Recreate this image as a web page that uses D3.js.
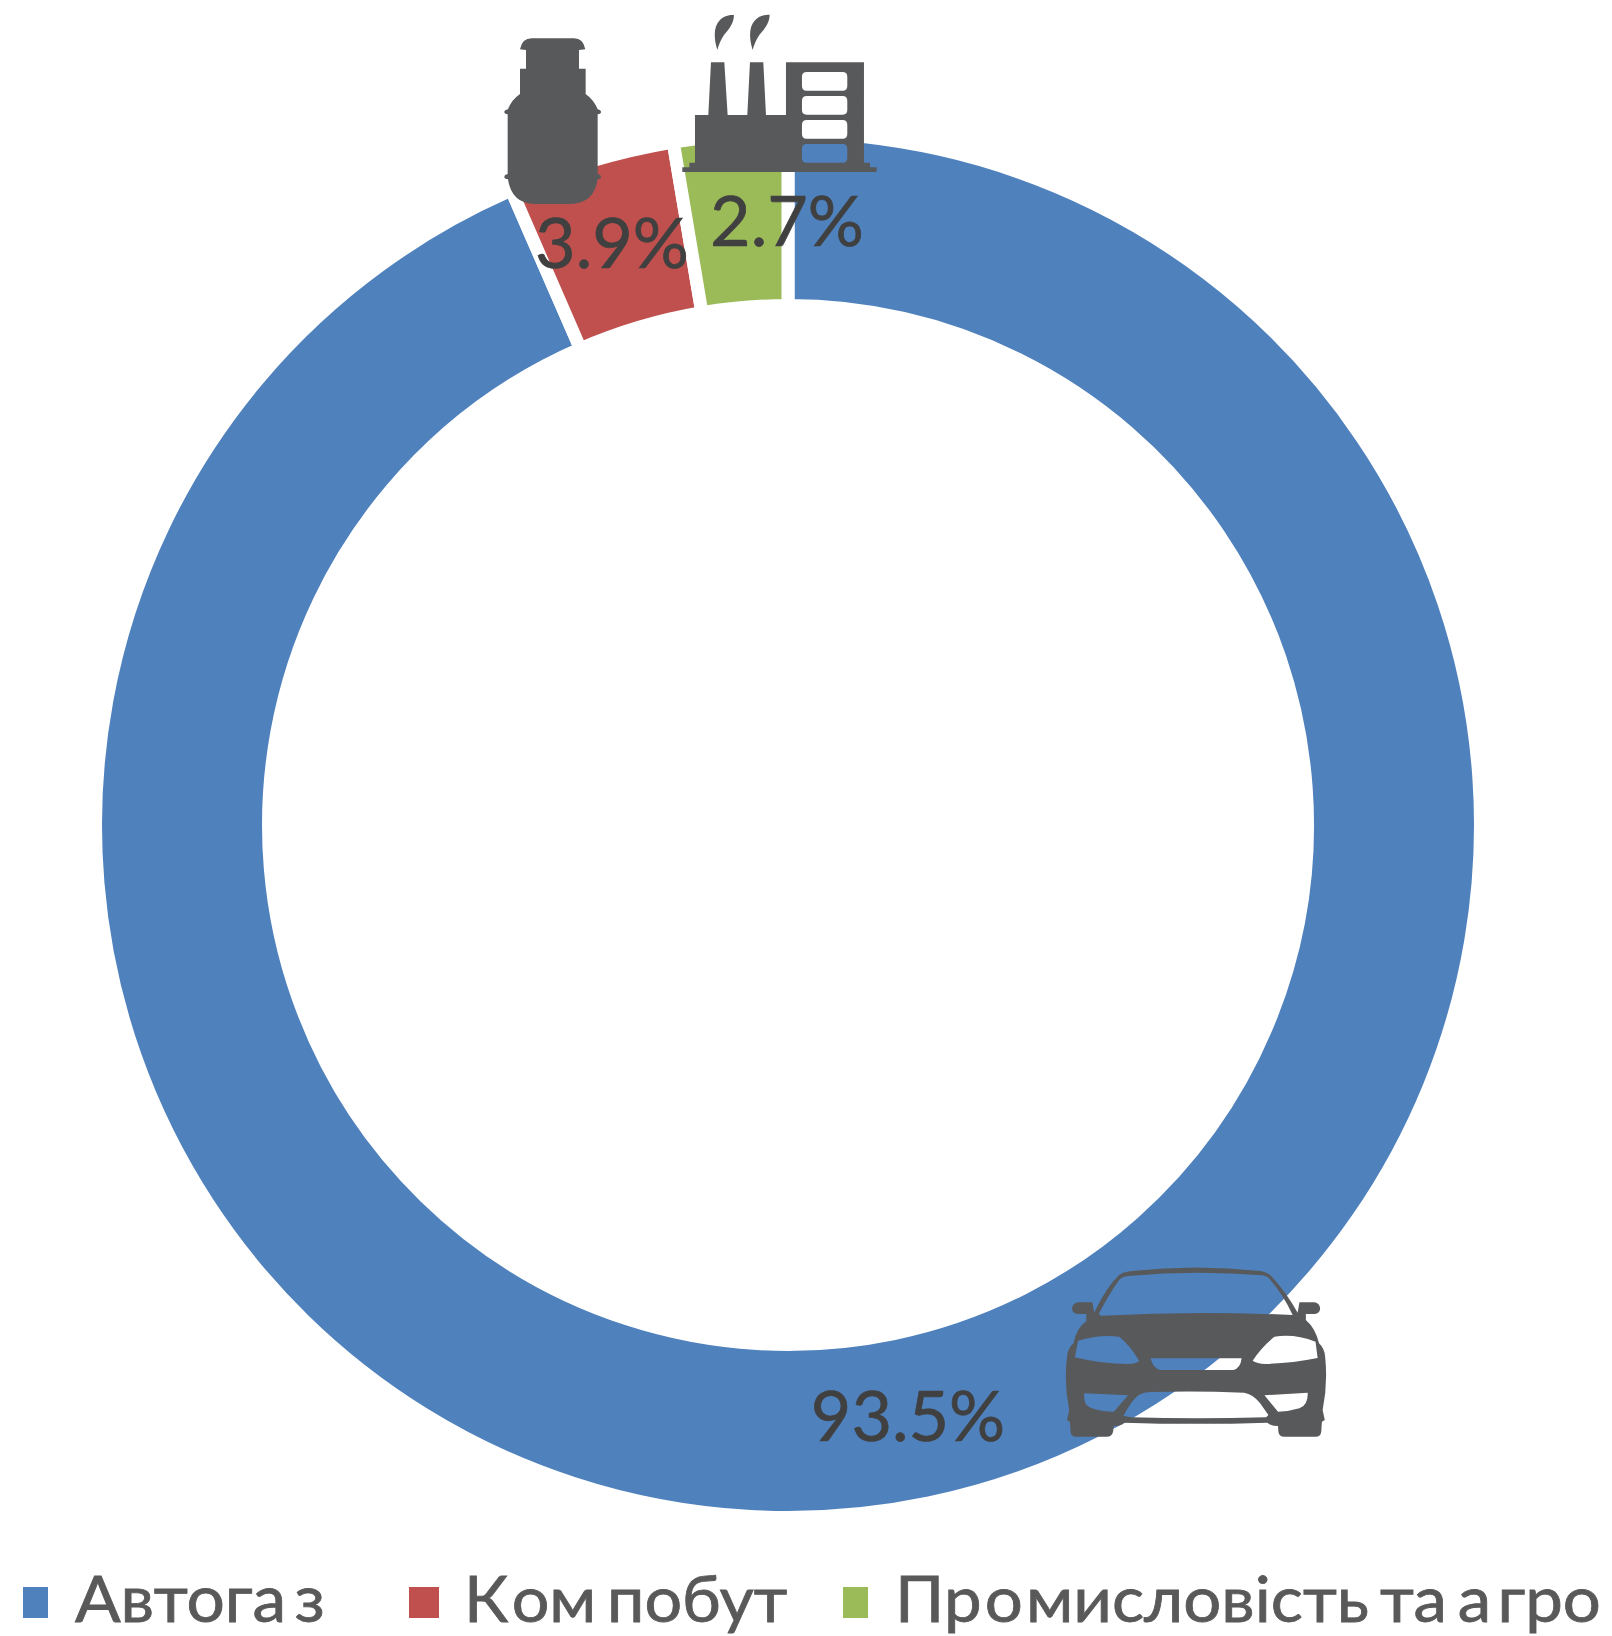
<!DOCTYPE html>
<html>
<head>
<meta charset="utf-8">
<script src="https://cdn.jsdelivr.net/npm/d3@7"></script>
<style>
  html, body { margin: 0; padding: 0; background: #fff; }
  svg { display: block; }
  text { font-family: Lato, "Open Sans", sans-serif; }
</style>
</head>
<body>
<div id="chart"></div>
<script>
// data
var categories = ["Автогаз", "Ком побут", "Промисловість та агро"];
var shares = [93.46, 3.89, 2.65];
var shareLabels = ["93.5%", "3.9%", "2.7%"];
var colors = ["#4f81bd", "#c0504d", "#9bbb59"];

var width = 1612, height = 1636;
var cx = 788, cy = 825;
var gap = 13;
var outer = 686, inner = 526;

var svg = d3.select("#chart").append("svg")
    .attr("width", width)
    .attr("height", height);

// ring, white outline makes the gaps between slices
var pie = d3.pie().sort(null).value(function(d) { return d; });
var arc = d3.arc()
    .innerRadius(inner - gap / 2)
    .outerRadius(outer + gap / 2);

svg.append("g")
    .attr("transform", "translate(" + cx + "," + cy + ")")
  .selectAll("path")
  .data(pie(shares))
  .enter().append("path")
    .attr("d", arc)
    .attr("fill", function(d, i) { return colors[i]; })
    .attr("stroke", "#fff")
    .attr("stroke-width", gap);

// icons. evenodd so the windows show what is behind
var icons = svg.append("g").attr("fill", "#58595b").attr("fill-rule", "evenodd");

// gas bottle + factory share one crop space
var top_ = icons.append("g").attr("transform", "translate(480,0) scale(0.3333)");

top_.append("path").attr("d",
  "M120 148 Q126 115 155 115 L282 115 Q310 115 316 148 L297 150 L297 206 L317 206 L317 282 " +
  "Q342 300 353 328 Q363 330 363 336 Q363 342 353 343 L353 522 Q363 524 363 531 Q363 537 353 538 " +
  "Q342 612 270 612 L165 612 Q95 612 84 538 Q73 537 73 531 Q73 524 83 522 L83 343 Q73 342 73 336 " +
  "Q73 330 84 328 Q94 300 120 282 L120 206 L138 206 L138 150 Z");

top_.append("path").attr("d",
  "M712 150 C700 110 702 80 718 62 C730 48 748 44 762 45 C762 70 745 90 732 105 C722 120 716 135 712 150 Z " +
  "M818 150 C806 110 808 80 824 62 C836 48 854 44 869 44 C869 70 851 90 838 105 C828 120 822 135 818 150 Z");

top_.append("path").attr("d",
  "M693 187 L733 187 L743 345 L802 345 L810 187 L850 187 L858 345 L918 345 L918 187 L1152 187 L1152 488 " +
  "L1170 488 L1170 502 L1190 502 L1190 516 L607 516 L607 502 L628 502 L628 488 L645 488 L645 345 L685 345 Z " +
  "M980 216 L1088 216 Q1102 216 1102 230 L1102 258 Q1102 272 1088 272 L980 272 Q966 272 966 258 L966 230 Q966 216 980 216 Z " +
  "M980 288 L1088 288 Q1102 288 1102 302 L1102 330 Q1102 344 1088 344 L980 344 Q966 344 966 330 L966 302 Q966 288 980 288 Z " +
  "M980 360 L1088 360 Q1102 360 1102 374 L1102 402 Q1102 416 1088 416 L980 416 Q966 416 966 402 L966 374 Q966 360 980 360 Z " +
  "M980 432 L1088 432 Q1102 432 1102 446 L1102 474 Q1102 488 1088 488 L980 488 Q966 488 966 474 L966 446 Q966 432 980 432 Z");

// car, the crop it was traced from was squeezed sideways so x and y scale differ
icons.append("g").attr("transform", "translate(780,1240) scale(0.357,0.3333)")
  .append("path").attr("d",
  "M880 218 Q915 140 950 105 Q960 96 985 93 Q1165 72 1345 93 Q1365 96 1378 110 Q1420 160 1450 218 " +
  "L1455 187 L1497 187 Q1513 190 1513 207 Q1511 220 1498 222 L1473 222 L1473 240 Q1500 265 1510 310 " +
  "Q1525 325 1527 350 Q1535 430 1520 510 L1526 540 L1518 545 L1516 575 Q1515 590 1500 590 L1412 590 " +
  "Q1398 590 1396 575 L1395 558 Q1375 558 1365 548 Q1165 555 965 548 Q955 558 935 558 L933 575 " +
  "Q930 590 915 590 L830 590 Q815 590 814 575 L812 545 L804 540 L810 510 Q795 430 804 350 Q806 325 822 310 " +
  "Q830 265 858 243 L858 222 L832 222 Q818 220 818 205 Q820 190 835 187 L875 187 Z " +
  "M893 222 Q920 165 950 120 Q958 110 975 108 Q1165 90 1350 106 Q1365 108 1372 118 Q1410 165 1436 225 " +
  "Q1165 212 900 227 Z " +
  "M835 302 Q895 282 950 290 Q980 315 1006 362 Q1000 371 975 372 Q900 372 826 352 Z " +
  "M1500 305 Q1440 280 1385 290 Q1350 320 1324 362 Q1335 371 1360 372 Q1430 370 1506 354 Z " +
  "M1038 355 L1293 355 Q1290 385 1270 390 L1065 390 Q1045 385 1038 355 Z " +
  "M852 460 L975 466 L935 515 Q900 515 870 503 Q852 495 852 470 Z " +
  "M1357 466 L1478 458 Q1480 495 1455 505 Q1425 515 1395 515 Z " +
  "M962 528 Q985 480 1005 465 Q1020 456 1040 456 Q1165 452 1300 458 Q1325 462 1345 490 L1368 525 L1362 532 " +
  "Q1165 538 985 532 Z");

// percent labels, placed by hand in the original so no centroid here
var labelX = [908, 612, 787];
var labelY = [1441, 268, 246];

svg.append("g").selectAll("text")
  .data(shareLabels)
  .enter().append("text")
    .attr("x", function(d, i) { return labelX[i]; })
    .attr("y", function(d, i) { return labelY[i]; })
    .attr("text-anchor", "middle")
    .attr("font-size", 70)
    .attr("fill", "#404040")
    .attr("stroke", "#404040")
    .attr("stroke-width", 0.7)
    .text(function(d) { return d; });

// legend. text is squeezed and unevenly spaced, keep the word gaps per label
var legendSwatchX = [23, 409, 843];
var legendSwatchW = [25, 30, 25];
var legendTextX = [75, 464, 895];
var legendTextW = [250, 321, 706];
var legendParts = [
  ["Автога", "з"],
  ["К", "ом", " побут"],
  ["Пр", "о", "мисловість та", " а", "гро"]
];
var legendGaps = [
  [0, 8],
  [0, 3, 0],
  [0, 3, 3, 0, 6]
];

var legend = svg.append("g").selectAll("g")
  .data(categories)
  .enter().append("g");

legend.append("rect")
    .attr("x", function(d, i) { return legendSwatchX[i]; })
    .attr("y", 1587)
    .attr("width", function(d, i) { return legendSwatchW[i]; })
    .attr("height", 31)
    .attr("fill", function(d, i) { return colors[i]; });

legend.append("text")
    .attr("font-size", 64)
    .attr("fill", "#595959")
    .attr("stroke", "#595959")
    .attr("stroke-width", 0.8)
    .attr("word-spacing", -6)
    .each(function(d, i) {
      var t = d3.select(this);
      legendParts[i].forEach(function(p, j) {
        t.append("tspan").attr("dx", legendGaps[i][j]).text(p);
      });
      var w = this.getBBox().width;
      t.attr("transform", "translate(" + legendTextX[i] + ",1622) scale(" + (legendTextW[i] / w) + ",1)");
    });
</script>
</body>
</html>
